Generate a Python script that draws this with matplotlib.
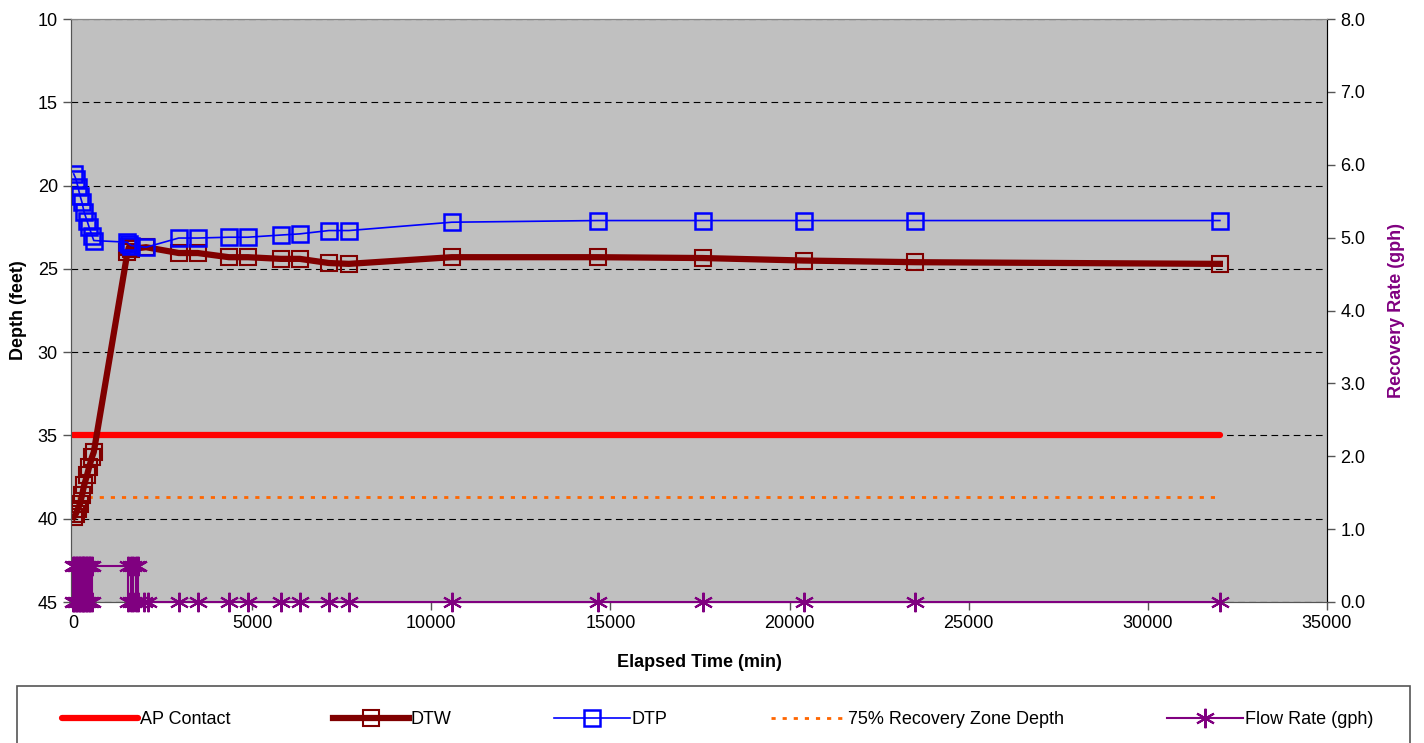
import matplotlib.pyplot as plt
import matplotlib.ticker as mticker

plt.rcParams['font.family'] = ['Liberation Sans', 'DejaVu Sans']

# elapsed time (min) for depth readings
time_min = [20, 80, 140, 195, 250, 310, 390, 450, 530, 580,
            1520, 1560, 1620, 2040, 2950, 3480, 4350, 4880, 5800, 6330,
            7140, 7700, 10570, 14640, 17570, 20390, 23510, 32010]
dtw = [39.9, 39.7, 39.4, 39.1, 38.6, 38.0, 37.4, 36.9, 36.3, 36.0,
       24.0, 23.7, 23.8, 23.7, 24.05, 24.05, 24.3, 24.3, 24.4, 24.4,
       24.65, 24.7, 24.3, 24.3, 24.35, 24.5, 24.6, 24.7]
dtp = [19.3, 19.6, 20.1, 20.6, 21.0, 21.6, 22.1, 22.5, 23.0, 23.3,
       23.4, 23.5, 23.6, 23.7, 23.15, 23.15, 23.1, 23.1, 22.97, 22.9,
       22.7, 22.7, 22.2, 22.1, 22.1, 22.1, 22.1, 22.1]

ap_time = [0, 32010]
ap_contact = [35.0, 35.0]
rz_time = [100, 32010]
recovery_zone = [38.7, 38.7]

# flow rate (gph)
flow_time = [0, 0, 40, 40, 80, 80, 120, 120, 160, 160, 200, 200, 240, 240,
             280, 280, 320, 320, 360, 360, 400, 400, 440, 440, 480, 480, 520, 520,
             1540, 1540, 1610, 1610, 1680, 1680, 1750, 1750, 1810, 1810,
             1980, 2090, 2950, 3480, 4350, 4880, 5800, 6330, 7140, 7700,
             10570, 14640, 17570, 20390, 23510, 32010]
flow_rate = [0.5, 0, 0, 0.5, 0.5, 0, 0, 0.5, 0.5, 0, 0, 0.5, 0.5, 0,
             0, 0.5, 0.5, 0, 0, 0.5, 0.5, 0, 0, 0.5, 0.5, 0, 0, 0.5,
             0.5, 0, 0, 0.5, 0.5, 0, 0, 0.5, 0.5, 0,
             0, 0, 0, 0, 0, 0, 0, 0, 0, 0,
             0, 0, 0, 0, 0, 0]

fig = plt.figure(figsize=(14.24, 7.43), dpi=100)
ax = fig.add_axes([71/1424, 1 - 602/743, (1327 - 71)/1424, (602 - 19)/743])
ax.set_facecolor('#C0C0C0')
ax2 = ax.twinx()

l_ap, = ax.plot(ap_time, ap_contact, color='#FF0000', lw=4.5, solid_capstyle='round',
                label='AP Contact', zorder=3)
l_dtw, = ax.plot(time_min, dtw, color='#800000', lw=4.5, marker='s', ms=12,
                 mfc='none', mec='#800000', mew=1.5, label='DTW', zorder=4)
l_dtp, = ax.plot(time_min, dtp, color='#0000FF', lw=1.2, marker='s', ms=12,
                 mfc='none', mec='#0000FF', mew=1.8, label='DTP', zorder=5)
l_rz, = ax.plot(rz_time, recovery_zone, color='#FF6600', lw=2, ls=(0, (1.5, 2.5)),
                label='75% Recovery Zone Depth', zorder=3)
l_fr, = ax2.plot(flow_time, flow_rate, color='#800080', lw=1.5, marker=(6, 2, 0), ms=14,
                 mew=1.5, label='Flow Rate (gph)', clip_on=False, zorder=6)

ax.set_xlim(-56, 35000)
ax.set_ylim(45, 10)
ax.set_yticks(range(10, 50, 5))
ax.set_xticks(range(0, 35001, 5000))
ax.yaxis.grid(True, color='black', ls=(0, (6, 4)), lw=0.8)
ax.set_axisbelow(True)

ax2.set_ylim(0, 8)
ax2.set_yticks([i for i in range(9)])
ax2.yaxis.set_major_formatter(mticker.FormatStrFormatter('%.1f'))

for a in (ax, ax2):
    a.tick_params(labelsize=13, length=6, width=1, direction='out', color='#555555')
    for s in a.spines.values():
        s.set_color('#555555')
ax.spines['top'].set_color('#888888')
ax2.spines['top'].set_color('#888888')
ax2.spines['right'].set_color('black')

ax.set_xlabel('Elapsed Time (min)', fontsize=13, fontweight='bold', labelpad=16)
ax.set_ylabel('Depth (feet)', fontsize=13, fontweight='bold', labelpad=8)
ax2.set_ylabel('Recovery Rate (gph)', fontsize=13, fontweight='bold', color='#800080',
               labelpad=16)

leg = fig.legend(handles=[l_ap, l_dtw, l_dtp, l_rz, l_fr], loc='center',
                 bbox_to_anchor=(35/1424, 23/743, (1400 - 35)/1424, 0),
                 mode='expand', ncol=5, fontsize=13, frameon=False,
                 handlelength=4.2, handletextpad=0.1, borderaxespad=0, borderpad=1.5)
# legend box spanning the full width below the plot
fig.patches.append(plt.Rectangle((17/1424, -0.01), (1410 - 17)/1424, (743 - 686)/743 + 0.01,
                                 transform=fig.transFigure, fill=False,
                                 edgecolor='#555555', lw=1.2))

fig.savefig('out.png', dpi=100)
